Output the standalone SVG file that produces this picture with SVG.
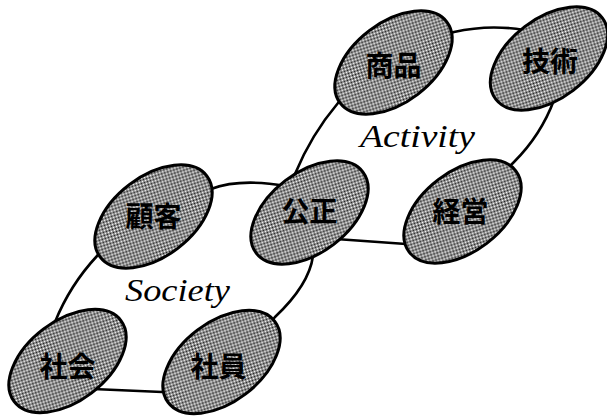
<svg xmlns="http://www.w3.org/2000/svg" width="607" height="416" viewBox="0 0 607 416">
<defs>
<pattern id="dither" width="2" height="2" patternUnits="userSpaceOnUse">
<rect width="2" height="2" fill="#fff"/>
<rect width="1" height="1" fill="#1e1e1e"/>
<rect x="1" y="1" width="1" height="1" fill="#1e1e1e"/>
</pattern>
</defs>
<style>
.big{fill:#fff;stroke:#000;stroke-width:2.6;stroke-linejoin:round}
.node{fill:url(#dither);stroke:#000;stroke-width:3}
.jp{font-family:"Noto Sans CJK JP","Noto Sans CJK SC",sans-serif;font-weight:700;font-size:28px;fill:#000;text-anchor:middle}
.lbl{font-family:"Liberation Serif","Times New Roman",serif;font-style:italic;font-size:32px;fill:#000}
</style>
<rect width="607" height="416" fill="#fff"/>
<g id="connectors">
<g id="activity">
<path class="big" d="M 338,103 Q 384,48 454,32 Q 489,24 524,30 Q 577,39 554,100 Q 541,135 514,162 Q 430,246 406,244 L 336,239 Q 270,234 295,174 Q 311,135 338,103 Z"/>
<text class="lbl" x="360" y="147" textLength="115" lengthAdjust="spacingAndGlyphs">Activity</text>
</g>
<g id="society">
<path class="big" d="M 97,256 Q 117,225 211,189 Q 240,178 286,186 Q 338,190 313,256 Q 309,285 275,317 Q 215,394 162,392 L 93,389 Q 20,386 55,322 Q 70,285 97,256 Z"/>
<text class="lbl" x="125" y="301" textLength="105" lengthAdjust="spacingAndGlyphs">Society</text>
</g>
</g>
<g id="shohin">
<ellipse class="node" cx="0" cy="0" rx="67" ry="40" transform="translate(393.5,62.5) rotate(-37.3)"/>
<text class="jp" x="393.5" y="76">商品</text>
</g>
<g id="gijutsu">
<ellipse class="node" cx="0" cy="0" rx="67" ry="40" transform="translate(549,58.5) rotate(-37.3)"/>
<text class="jp" x="550" y="71.5">技術</text>
</g>
<g id="keiei">
<ellipse class="node" cx="0" cy="0" rx="67" ry="40" transform="translate(462.5,211.5) rotate(-37.3)"/>
<text class="jp" x="460.5" y="222">経営</text>
</g>
<g id="kousei">
<ellipse class="node" cx="0" cy="0" rx="67" ry="40" transform="translate(309.5,212.5) rotate(-37.3)"/>
<text class="jp" x="309.5" y="222">公正</text>
</g>
<g id="kokyaku">
<ellipse class="node" cx="0" cy="0" rx="67" ry="40" transform="translate(153.5,216.5) rotate(-37.3)"/>
<text class="jp" x="153.5" y="227">顧客</text>
</g>
<g id="shakai">
<ellipse class="node" cx="0" cy="0" rx="67" ry="40" transform="translate(67.5,361) rotate(-37.3)"/>
<text class="jp" x="67.5" y="376.5">社会</text>
</g>
<g id="shain">
<ellipse class="node" cx="0" cy="0" rx="67" ry="40" transform="translate(221.5,362) rotate(-37.3)"/>
<text class="jp" x="218.5" y="376.5">社員</text>
</g>
</svg>
